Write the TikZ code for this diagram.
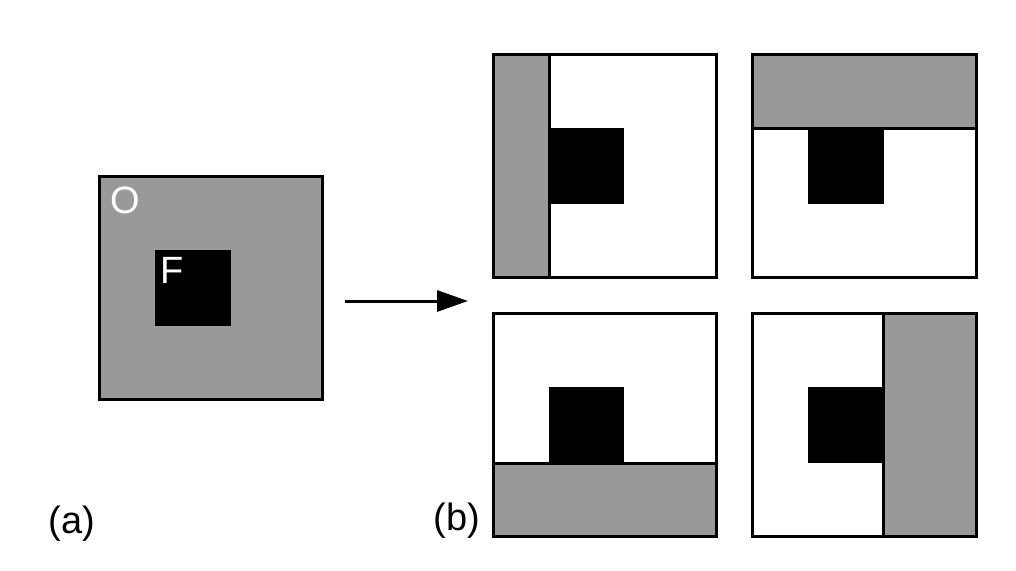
\documentclass[tikz,border=0pt]{standalone}
\usepackage{fontspec}
\setmainfont{Liberation Sans}
\usetikzlibrary{arrows.meta}
\definecolor{StripClr}{gray}{0.6}

\tikzset{
  frame/.style={draw=black,line width=3pt},
  face/.style={fill=black,draw=StripClr,line width=0.6pt},
  lbl/.style={font=\fontsize{38}{44}\selectfont,inner sep=0pt},
}

\begin{document}
\begin{tikzpicture}[x=1pt,y=-1pt]
\useasboundingbox (0,0) rectangle (1016,570);

% (a) object O with feature F
\node[frame,fill=StripClr,minimum size=223pt,inner sep=0pt,outer sep=0pt] (obj) at (210.5,288) {};
\node[face,minimum size=77pt,inner sep=0pt,outer sep=0pt] (feat) at (192.5,288) {};
\node[lbl,text=white] (objlbl) at (125,200) {O};
\node[lbl,text=white] (featlbl) at (172,270) {F};

% arrow
\coordinate (arrtail) at (345,301);
\coordinate (arrhead) at (468,301);
\draw[line width=3pt,-{Triangle[length=31pt,width=21pt]}] (arrtail) -- (arrhead);

% (b) four panels: origin / strip corners
\foreach \px/\py/\xa/\ya/\xb/\yb [count=\i] in
  {493/54/0/0/56/223, 752.5/54/0/0/223.5/74,
   493/313/0/150/223.5/223, 752.5/313/130.5/0/223.5/223}{
  \begin{scope}[shift={(\px,\py)}]
    \node[frame,fill=white,minimum width=223.5pt,minimum height=223pt,
      inner sep=0pt,outer sep=0pt,anchor=north west] (panel\i) at (0,0) {};
    \fill[black] (55.5,73.5) rectangle (131,150);
    \filldraw[frame,fill=StripClr] (\xa,\ya) rectangle (\xb,\yb);
  \end{scope}
}

\node[lbl] (lbla) at (72,524) {(a)};
\node[lbl] (lblb) at (457,521) {(b)};

\end{tikzpicture}
\end{document}
